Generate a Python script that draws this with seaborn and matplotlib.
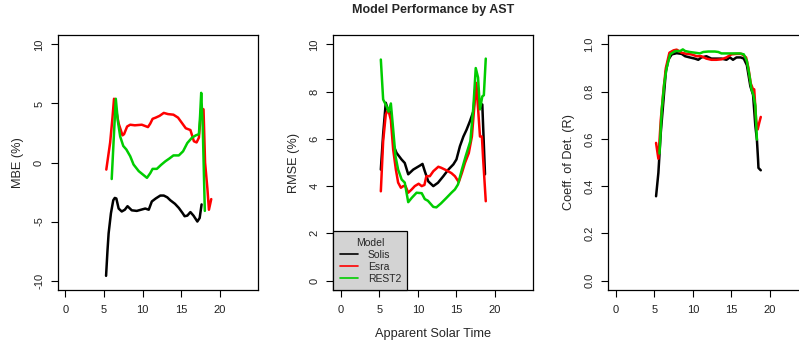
import numpy as np
import pandas as pd
import matplotlib
matplotlib.use("Agg")
import matplotlib.pyplot as plt
from matplotlib.lines import Line2D
import seaborn as sns

models = ["Solis", "Esra", "REST2"]
colors = ["#000000", "#FF0000", "#00CD00"]

# ---- MBE (%) ----
mbe_solis_x = [5.27,5.45,5.6,5.9,6.2,6.4,6.6,6.9,7.3,7.7,8.05,8.6,9.25,9.8,10.35,10.8,11.2,11.7,12.3,12.75,13.2,13.6,14.2,14.7,15.2,15.45,15.8,16.2,16.6,17.1,17.4,17.65]
mbe_solis_y = [-9.6,-7.5,-6.0,-4.3,-3.2,-3.0,-3.05,-3.9,-4.15,-4.0,-3.7,-4.05,-4.1,-4.0,-3.9,-4.0,-3.3,-3.05,-2.8,-2.8,-2.95,-3.2,-3.5,-3.85,-4.3,-4.55,-4.5,-4.2,-4.5,-5.0,-4.7,-3.55]
mbe_esra_x = [5.3,5.8,6.1,6.3,6.9,7.4,7.6,8.0,8.4,9.0,9.9,10.3,10.7,11.0,11.3,11.7,12.2,12.75,13.3,14.0,14.6,15.1,15.6,16.2,16.65,17.0,17.3,17.6,17.9,18.1,18.4,18.6,18.9]
mbe_esra_y = [-0.6,1.7,3.8,5.4,3.3,2.3,2.4,3.05,3.2,3.15,3.2,3.1,3.0,3.3,3.7,3.8,3.95,4.2,4.1,4.05,3.8,3.35,2.9,2.75,1.8,1.7,2.1,4.6,4.5,0.0,-2.2,-4.0,-3.1]
mbe_rest2_x = [6.0,6.3,6.53,6.8,7.1,7.5,7.9,8.4,8.83,9.5,10.1,10.57,11.0,11.3,11.85,12.4,12.95,13.5,14.0,14.7,15.25,15.8,16.4,16.9,17.3,17.45,17.6,17.8,18.0,18.07]
mbe_rest2_y = [-1.4,2.5,5.4,3.5,2.2,1.4,1.1,0.53,-0.17,-0.73,-1.05,-1.3,-0.9,-0.54,-0.54,-0.2,0.1,0.35,0.6,0.6,0.95,1.65,2.1,2.3,2.4,3.9,5.9,3.0,-2.3,-4.1]

# ---- RMSE (%) ----
rmse_solis_x = [5.2,5.5,5.84,6.1,6.5,6.88,7.23,7.88,8.3,8.75,9.4,10.27,10.6,10.9,11.35,12.0,12.6,13.3,13.95,14.6,15.0,15.45,15.9,16.3,16.75,17.2,17.5,17.8,18.05,18.35,18.7]
rmse_solis_y = [4.7,6.2,7.53,7.25,7.1,5.69,5.41,5.13,4.98,4.5,4.7,4.87,4.94,4.63,4.2,4.0,4.14,4.42,4.7,4.92,5.13,5.69,6.1,6.38,6.75,7.17,8.37,7.7,7.3,7.46,4.5]
rmse_esra_x = [5.2,5.5,5.84,6.15,6.5,6.8,7.15,7.44,7.8,8.1,8.4,8.75,9.2,9.6,10.1,10.5,10.85,11.1,11.55,12.0,12.65,13.0,13.7,14.35,14.8,15.3,15.7,16.1,16.6,17.0,17.3,17.55,17.8,18.05,18.3,18.45,18.8]
rmse_esra_y = [3.78,5.9,7.03,7.25,6.8,5.55,4.7,4.15,3.93,4.0,4.0,3.72,3.86,4.0,4.1,4.0,4.05,4.42,4.42,4.63,4.82,4.78,4.67,4.55,4.42,4.17,4.55,4.98,5.4,6.1,7.3,8.37,7.3,6.1,6.1,5.2,3.36]
rmse_rest2_x = [5.2,5.5,5.93,6.2,6.5,6.8,7.1,7.44,7.9,8.3,8.75,9.2,9.83,10.5,10.9,11.3,12.0,12.4,13.0,13.7,14.35,14.8,15.2,15.7,16.2,16.8,17.2,17.5,17.8,18.05,18.35,18.55,18.8]
rmse_rest2_y = [9.36,7.67,7.39,7.15,7.5,6.4,5.27,4.7,4.28,4.15,3.32,3.5,3.72,3.7,3.45,3.38,3.12,3.1,3.27,3.5,3.72,3.86,4.07,4.7,5.27,5.9,7.38,9.0,8.6,7.25,7.8,7.85,9.4]

# ---- Coefficient of determination ----
r_solis_x = [5.23,5.53,5.84,6.2,6.5,6.83,7.27,7.9,8.55,9.0,9.6,10.26,10.7,11.1,11.75,12.4,13.05,13.7,14.35,14.8,15.2,15.65,16.2,16.6,17.0,17.45,17.8,18.1,18.3,18.45,18.5,18.8]
r_solis_y = [0.357,0.456,0.626,0.767,0.886,0.936,0.958,0.963,0.96,0.95,0.945,0.94,0.935,0.945,0.95,0.94,0.94,0.94,0.935,0.945,0.935,0.945,0.945,0.94,0.912,0.823,0.787,0.654,0.597,0.512,0.477,0.467]
r_esra_x = [5.23,5.53,5.84,6.2,6.5,6.96,7.5,7.9,8.55,9.2,9.8,10.5,11.1,11.75,12.4,13.05,13.7,14.35,15.0,15.65,16.3,16.9,17.2,17.5,17.8,17.95,18.2,18.4,18.6,18.8]
r_esra_y = [0.583,0.516,0.68,0.81,0.9,0.965,0.975,0.978,0.965,0.96,0.958,0.95,0.95,0.94,0.935,0.935,0.937,0.945,0.958,0.96,0.96,0.945,0.9,0.835,0.81,0.81,0.68,0.64,0.668,0.693]
r_rest2_x = [5.67,5.97,6.3,6.6,7.05,7.7,8.35,8.7,9.0,9.6,10.26,10.9,11.35,12.0,12.85,13.3,13.7,14.35,15.2,16.1,16.6,17.0,17.3,17.6,17.85,18.1,18.3]
r_rest2_y = [0.538,0.724,0.837,0.9,0.958,0.972,0.972,0.979,0.972,0.968,0.965,0.962,0.968,0.97,0.97,0.968,0.962,0.962,0.962,0.962,0.958,0.93,0.875,0.81,0.785,0.74,0.597]

x_ticks = [0, 5, 10, 15, 20]
mbe_ticks = [-10, -5, 0, 5, 10]
rmse_ticks = [0, 2, 4, 6, 8, 10]
r_ticks = [0.0, 0.2, 0.4, 0.6, 0.8, 1.0]
r_ticklabels = ["0.0", "0.2", "0.4", "0.6", "0.8", "1.0"]


def long_df(series):
    frames = []
    for name, xs, ys in series:
        frames.append(pd.DataFrame({"hour": xs, "value": ys, "Model": name}))
    return pd.concat(frames, ignore_index=True)


df_mbe = long_df([("Solis", mbe_solis_x, mbe_solis_y), ("Esra", mbe_esra_x, mbe_esra_y), ("REST2", mbe_rest2_x, mbe_rest2_y)])
df_rmse = long_df([("Solis", rmse_solis_x, rmse_solis_y), ("Esra", rmse_esra_x, rmse_esra_y), ("REST2", rmse_rest2_x, rmse_rest2_y)])
df_r = long_df([("Solis", r_solis_x, r_solis_y), ("Esra", r_esra_x, r_esra_y), ("REST2", r_rest2_x, r_rest2_y)])

sns.set_style("white")
plt.rcParams["font.family"] = ["Liberation Sans", "DejaVu Sans"]

W, H = 799, 343
fig = plt.figure(figsize=(W / 100, H / 100), dpi=100)
palette = dict(zip(models, colors))

lefts = [58, 333.3, 608.3]
pw, top, bottom = 200, 35, 290
axes = []
for l in lefts:
    ax = fig.add_axes([l / W, (H - bottom) / H, pw / W, (bottom - top) / H])
    axes.append(ax)

specs = [
    (df_mbe, "MBE (%)", (-10.8, 10.8), mbe_ticks, [str(t) for t in mbe_ticks]),
    (df_rmse, "RMSE (%)", (-0.4, 10.4), rmse_ticks, [str(t) for t in rmse_ticks]),
    (df_r, "Coeff. of Det. (R)", (-0.04, 1.04), r_ticks, r_ticklabels),
]

for ax, (df, ylab, ylim, yt, ytl) in zip(axes, specs):
    sns.lineplot(data=df, x="hour", y="value", hue="Model", hue_order=models,
                 palette=palette, estimator=None, sort=False, units="Model",
                 linewidth=1.8, legend=False, ax=ax)
    ax.set_xlim(-0.96, 24.96)
    ax.set_ylim(*ylim)
    ax.set_xticks(x_ticks)
    ax.set_xticklabels([str(t) for t in x_ticks])
    ax.set_yticks(yt)
    ax.set_yticklabels(ytl, rotation=90, va="center")
    ax.tick_params(axis="both", direction="out", length=5, width=0.8,
                   labelsize=8, color="black", labelcolor="#222222",
                   left=True, bottom=True)
    ax.tick_params(axis="x", pad=6)
    ax.tick_params(axis="y", pad=5)
    for s in ax.spines.values():
        s.set_visible(True)
        s.set_color("black")
        s.set_linewidth(0.9)
    ax.set_xlabel("")
    ax.set_ylabel(ylab, fontsize=9.2, labelpad=7)

axes[1].set_title("Model Performance by AST", fontsize=9, fontweight="bold", pad=16)
axes[1].set_xlabel("Apparent Solar Time", fontsize=9.2, labelpad=9)

handles = [Line2D([0], [0], color=c, lw=1.2) for c in colors]
leg = axes[1].legend(handles, models, title="Model", loc="lower left",
                     borderaxespad=0, fancybox=False, framealpha=1,
                     facecolor="#D3D3D3", edgecolor="black", fontsize=7.5,
                     title_fontsize=7.5, handlelength=1.8, handletextpad=0.9,
                     labelspacing=0.2, borderpad=0.6)
leg.get_frame().set_linewidth(0.9)

fig.savefig("out.png", dpi=100)
